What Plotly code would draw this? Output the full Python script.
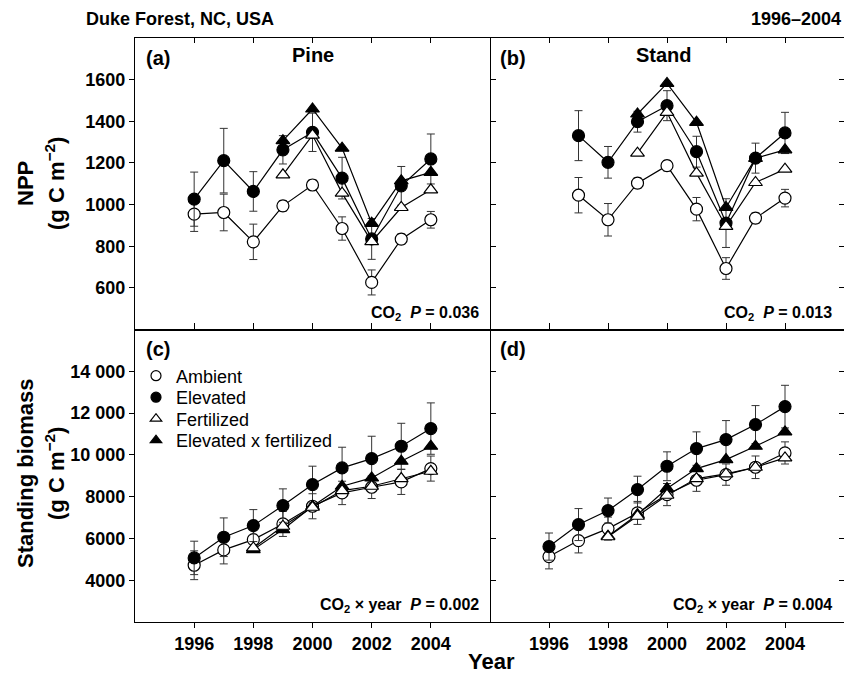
import plotly.graph_objects as go

# ---------------- data ----------------
years = [1996, 1997, 1998, 1999, 2000, 2001, 2002, 2003, 2004]
tick_years = [1996, 1998, 2000, 2002, 2004]

# (a) Pine NPP
amb_pine = [954, 962, 821, 994, 1094, 885, 626, 834, 927]
amb_pine_se = [83, 88, 85, 25, 25, 56, 60, 25, 40]
elev_pine = [1026, 1211, 1063, 1263, 1347, 1127, 835, 1090, 1219]
elev_pine_se = [130, 155, 95, 68, 92, 100, 98, 93, 120]
fert_pine = [None, None, None, 1143, 1334, 1055, 822, 986, 1071]
exf_pine = [None, None, None, 1307, 1459, 1271, 910, 1114, 1155]

# (b) Stand NPP
amb_stand = [None, 1045, 927, 1103, 1187, 978, 693, 935, 1031]
amb_stand_se = [None, 85, 78, 25, 25, 56, 52, 25, 42]
elev_stand = [None, 1331, 1203, 1398, 1475, 1254, 911, 1223, 1344]
elev_stand_se = [None, 120, 76, 50, 72, 74, 117, 72, 99]
fert_stand = [None, None, None, 1247, 1443, 1151, 895, 1106, 1170]
exf_stand = [None, None, None, 1435, 1582, 1395, 986, 1222, 1263]

# (c) Pine standing biomass
amb_pine_bm = [4717, 5451, 5945, 6695, 7540, 8178, 8450, 8705, 9343]
amb_pine_bm_se = [690, 670, 600, 600, 600, 560, 540, 600, 600]
elev_pine_bm = [5068, 6057, 6615, 7572, 8577, 9375, 9821, 10411, 11257]
elev_pine_bm_se = [800, 925, 765, 800, 880, 990, 1070, 1100, 1230]
fert_pine_bm = [None, None, 5547, 6583, 7492, 8290, 8497, 8864, 9215]
exf_pine_bm = [None, None, 5467, 6424, 7540, 8497, 8896, 9693, 10411]

# (d) Stand standing biomass
amb_stand_bm = [5132, 5897, 6471, 7221, 8099, 8784, 9055, 9406, 10092]
amb_stand_bm_se = [590, 590, 550, 550, 530, 530, 510, 540, 530]
elev_stand_bm = [5610, 6663, 7333, 8338, 9454, 10300, 10730, 11448, 12309]
elev_stand_bm_se = [650, 765, 600, 640, 690, 800, 910, 910, 1020]
fert_stand_bm = [None, None, 6080, 7062, 8067, 8864, 9087, 9406, 9853]
exf_stand_bm = [None, None, 6105, 7142, 8386, 9343, 9773, 10411, 11097]

npp_ticks = [600, 800, 1000, 1200, 1400, 1600]
bm_ticks = [4000, 6000, 8000, 10000, 12000, 14000]
bm_ticktext = ["4000", "6000", "8000", "10 000", "12 000", "14 000"]

series_names = ["Ambient", "Elevated", "Fertilized", "Elevated x fertilized"]
panel_labels = ["(a)", "(b)", "(c)", "(d)"]
panel_titles = ["Pine", "Stand"]
p_texts = ["CO<sub>2</sub>  <i>P</i> = 0.036", "CO<sub>2</sub>  <i>P</i> = 0.013",
           "CO<sub>2</sub> × year  <i>P</i> = 0.002", "CO<sub>2</sub> × year  <i>P</i> = 0.004"]

FONT = "Liberation Sans, Arial, Helvetica, sans-serif"
W, H = 844, 674

styles = {
    "Ambient": dict(symbol="circle", color="white"),
    "Elevated": dict(symbol="circle", color="black"),
    "Fertilized": dict(symbol="triangle-up", color="white"),
    "Elevated x fertilized": dict(symbol="triangle-up", color="black"),
}

fig = go.Figure()

panels = [
    ("x", "y", amb_pine, amb_pine_se, elev_pine, elev_pine_se, fert_pine, exf_pine),
    ("x2", "y2", amb_stand, amb_stand_se, elev_stand, elev_stand_se, fert_stand, exf_stand),
    ("x3", "y3", amb_pine_bm, amb_pine_bm_se, elev_pine_bm, elev_pine_bm_se, fert_pine_bm, exf_pine_bm),
    ("x4", "y4", amb_stand_bm, amb_stand_bm_se, elev_stand_bm, elev_stand_bm_se, fert_stand_bm, exf_stand_bm),
]


def add_series(xa, ya, vals, se, name):
    st = styles[name]
    err = None
    if se is not None:
        err = dict(type="data", array=se, visible=True, color="#333333", thickness=1, width=4)
    fig.add_trace(go.Scatter(
        x=years, y=vals, xaxis=xa, yaxis=ya, mode="lines+markers",
        name=name, showlegend=False, connectgaps=False,
        line=dict(color="black", width=1.2),
        marker=dict(symbol=st["symbol"], size=12,
                    color=st["color"], line=dict(color="black", width=1.2)),
        error_y=err,
    ))


for xa, ya, amb, amb_se, elev, elev_se, fert, exf in panels:
    add_series(xa, ya, amb, amb_se, "Ambient")
    add_series(xa, ya, elev, elev_se, "Elevated")
    add_series(xa, ya, exf, None, "Elevated x fertilized")
    add_series(xa, ya, fert, None, "Fertilized")

# legend-only entries, one legend box per row so the row spacing can match
legend_ids = ["legend", "legend2", "legend3", "legend4"]
legend_rows = [376, 397.5, 419, 440.5]
for name, lid in zip(series_names, legend_ids):
    st = styles[name]
    fig.add_trace(go.Scatter(
        x=[None], y=[None], xaxis="x3", yaxis="y3", mode="markers", name=name,
        legend=lid,
        marker=dict(symbol=st["symbol"], size=10, color=st["color"],
                    line=dict(color="black", width=1.2)),
    ))

# ---------------- layout ----------------
xL = [135 / W, 490 / W]
xR = [490 / W, 1.0]
yT = [1 - 329.5 / H, 1 - 38 / H]
yB = [1 - 622 / H, 1 - 329.5 / H]

tickfont = dict(family=FONT, size=18, color="black", weight="bold")
common = dict(showline=True, linecolor="black", linewidth=1.3, showgrid=False,
              zeroline=False, ticklen=5, tickwidth=1, tickcolor="black", tickfont=tickfont)

layout = dict(
    width=W, height=H, margin=dict(l=0, r=0, t=0, b=0),
    paper_bgcolor="white", plot_bgcolor="white",
    showlegend=True,
)
for lid, yc in zip(legend_ids, legend_rows):
    layout[lid] = dict(x=136 / W, y=1 - yc / H, xanchor="left", yanchor="middle",
                       bgcolor="rgba(0,0,0,0)", borderwidth=0, itemwidth=30,
                       font=dict(family=FONT, size=18, color="black"))

xcommon = dict(range=[1994, 2006], tickvals=tick_years, **common)
layout["xaxis"] = dict(domain=xL, anchor="y", ticks="inside", mirror="ticks", showticklabels=False, **xcommon)
layout["xaxis2"] = dict(domain=xR, anchor="y2", ticks="inside", mirror="ticks", showticklabels=False, **xcommon)
layout["xaxis3"] = dict(domain=xL, anchor="y3", ticks="outside", mirror="ticks", showticklabels=True, **xcommon)
layout["xaxis4"] = dict(domain=xR, anchor="y4", ticks="outside", mirror="ticks", showticklabels=True, **xcommon)

layout["yaxis"] = dict(domain=yT, anchor="x", range=[400, 1800], tickvals=npp_ticks,
                       ticks="outside", mirror="ticks", showticklabels=True, **common)
layout["yaxis3"] = dict(domain=yB, anchor="x3", range=[2000, 16000], tickvals=bm_ticks,
                        ticktext=bm_ticktext, ticks="outside", mirror="ticks", showticklabels=True, **common)
rcommon = dict(common)
rcommon["showline"] = False
layout["yaxis2"] = dict(domain=yT, anchor="x2", range=[400, 1800], tickvals=npp_ticks,
                        ticks="inside", mirror="ticks", showticklabels=False, **rcommon)
layout["yaxis4"] = dict(domain=yB, anchor="x4", range=[2000, 16000], tickvals=bm_ticks,
                        ticks="inside", mirror="ticks", showticklabels=False, **rcommon)
fig.update_layout(**layout)


def px_ann(text, x, y, size, xanchor="center", yanchor="middle", weight="bold", angle=0, family=FONT):
    fig.add_annotation(text=text, x=x / W, y=1 - y / H, xref="paper", yref="paper",
                       xanchor=xanchor, yanchor=yanchor, showarrow=False, textangle=angle,
                       font=dict(family=family, size=size, color="black", weight=weight))


# header
px_ann("Duke Forest, NC, USA", 84, 19, 18, xanchor="left")
px_ann("1996–2004", 843, 19, 18, xanchor="right")

# panel labels & titles
px_ann(panel_labels[0], 144, 58, 20, xanchor="left")
px_ann(panel_labels[1], 498, 58, 20, xanchor="left")
px_ann(panel_labels[2], 144, 349, 20, xanchor="left")
px_ann(panel_labels[3], 498, 349, 20, xanchor="left")
px_ann(panel_titles[0], 313, 55, 20)
px_ann(panel_titles[1], 664, 55, 20)

# P values
px_ann(p_texts[0], 481, 313, 16, xanchor="right")
px_ann(p_texts[1], 834, 313, 16, xanchor="right")
px_ann(p_texts[2], 481, 605, 16, xanchor="right")
px_ann(p_texts[3], 834, 605, 16, xanchor="right")

# axis titles
px_ann("NPP", 25, 184, 22, angle=-90)
px_ann("(g C m<sup>−2</sup>)", 55, 184, 22, angle=-90)
px_ann("Standing biomass", 25, 474, 22, angle=-90)
px_ann("(g C m<sup>−2</sup>)", 55, 474, 22, angle=-90)
px_ann("Year", 491, 661, 22)

fig.write_html("out.html")
